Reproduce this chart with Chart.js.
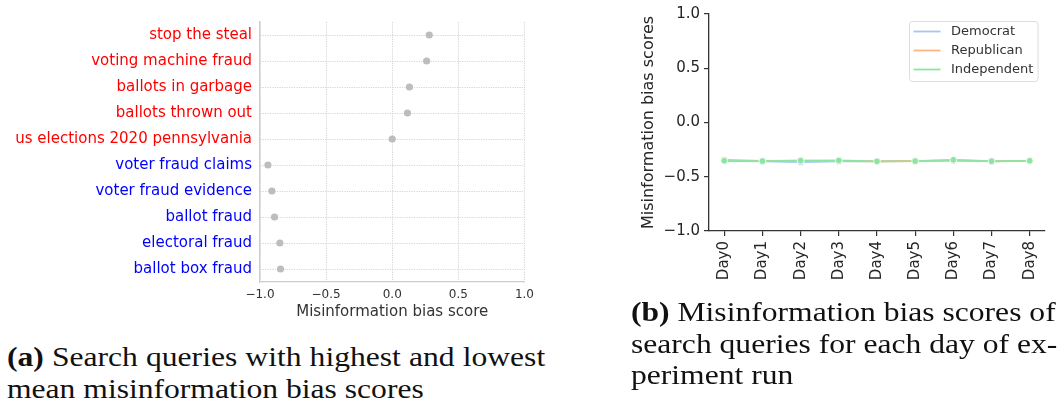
<!DOCTYPE html>
<html>
<head>
<meta charset="utf-8">
<script src="https://cdn.jsdelivr.net/npm/chart.js@4.4.1/dist/chart.umd.min.js"></script>
<style>
  html, body { margin: 0; padding: 0; background: #fff; }
  body { position: relative; width: 1058px; height: 410px; overflow: hidden; }
  canvas { position: absolute; }
  #queryChart { left: 0; top: 0; }
  #dayChart { left: 600px; top: 0; }
  .caption {
    position: absolute;
    font-family: "Liberation Serif", serif;
    font-size: 27px;
    line-height: 31.6px;
    color: #111;
    transform: scaleX(1.17);
    transform-origin: 0 0;
  }
  .caption span { display: block; white-space: nowrap; }
  .caption .just { text-align: justify; text-align-last: justify; }
  #capA { left: 7px; top: 342px; width: 460px; }
  #capB { left: 631px; top: 297px; width: 360px; }
</style>
</head>
<body>
<canvas id="queryChart" width="540" height="322"></canvas>
<canvas id="dayChart" width="458" height="300"></canvas>

<div class="caption" id="capA">
  <span class="just"><b>(a)</b> Search queries with highest and lowest</span>
  <span>mean misinformation bias scores</span>
</div>
<div class="caption" id="capB">
  <span class="just"><b>(b)</b> Misinformation bias scores of</span>
  <span class="just">search queries for each day of ex-</span>
  <span>periment run</span>
</div>

<script>
// queries, highest mean score first
var queries = [
  'stop the steal',
  'voting machine fraud',
  'ballots in garbage',
  'ballots thrown out',
  'us elections 2020 pennsylvania',
  'voter fraud claims',
  'voter fraud evidence',
  'ballot fraud',
  'electoral fraud',
  'ballot box fraud'
];
var queryScores = [0.28, 0.26, 0.13, 0.115, 0.0, -0.94, -0.91, -0.89, -0.85, -0.845];

var scoreTicks = [-1.0, -0.5, 0.0, 0.5, 1.0];

var days = ['Day0', 'Day1', 'Day2', 'Day3', 'Day4', 'Day5', 'Day6', 'Day7', 'Day8'];
var democrat =    [-0.355, -0.357, -0.366, -0.357, -0.358, -0.356, -0.350, -0.357, -0.354];
var republican =  [-0.345, -0.354, -0.352, -0.356, -0.357, -0.355, -0.352, -0.356, -0.353];
var independent = [-0.352, -0.356, -0.352, -0.350, -0.358, -0.356, -0.344, -0.357, -0.353];

Chart.defaults.font.family = 'DejaVu Sans';
Chart.defaults.animation = false;
Chart.defaults.responsive = false;

function fmt(v) {
  return v.toFixed(1).replace('-', '\u2212');
}

// left panel: one dot per query
new Chart(document.getElementById('queryChart'), {
  type: 'line',
  data: {
    labels: queries,
    datasets: [{
      data: queryScores,
      showLine: false,
      pointRadius: 3.6,
      pointHoverRadius: 3.6,
      pointBackgroundColor: '#bdbdbd',
      pointBorderWidth: 0
    }]
  },
  options: {
    indexAxis: 'y',
    layout: { padding: { top: 22, right: 13, left: 0, bottom: 0 } },
    plugins: { legend: { display: false }, tooltip: { enabled: false } },
    scales: {
      y: {
        type: 'category',
        offset: true,
        afterFit: function (s) { s.width = 260; },
        grid: { offset: false, color: '#d4d4d4', lineWidth: 1, drawTicks: false },
        border: { color: '#cccccc', width: 1.3, dash: [1.2, 1.2] },
        ticks: {
          padding: 8,
          font: { size: 15 },
          color: function (c) { return c.index < 5 ? '#ff0000' : '#0000ff'; }
        }
      },
      x: {
        type: 'linear',
        min: -1,
        max: 1,
        afterBuildTicks: function (s) { s.ticks = scoreTicks.map(function (v) { return { value: v }; }); },
        afterFit: function (s) { s.height = 40; },
        grid: { color: '#d4d4d4', lineWidth: 1, drawTicks: false },
        border: { color: '#cccccc', width: 1.3, dash: [1.2, 1.2] },
        ticks: {
          padding: 6,
          font: { size: 12 },
          color: '#333',
          callback: function (v) { return fmt(v); }
        },
        title: {
          display: true,
          text: 'Misinformation bias score',
          font: { size: 15 },
          color: '#333',
          padding: { top: 0, bottom: 1 }
        }
      }
    }
  }
});

// legend drawn inside the upper right of the plot area
var boxLegend = {
  id: 'boxLegend',
  afterDraw: function (chart) {
    var ctx = chart.ctx, area = chart.chartArea;
    var sets = chart.data.datasets;
    var w = 128.6, h = 60, rowH = 19;
    var x0 = area.right - 7.4 - w, y0 = area.top + 7;
    ctx.save();
    ctx.fillStyle = 'rgba(255,255,255,0.8)';
    ctx.strokeStyle = '#dddddd';
    ctx.lineWidth = 1;
    ctx.beginPath();
    ctx.roundRect(x0 + 0.5, y0 + 0.5, w, h, 3);
    ctx.fill();
    ctx.stroke();
    ctx.font = '13px "DejaVu Sans"';
    ctx.textBaseline = 'middle';
    ctx.fillStyle = '#333';
    sets.forEach(function (ds, i) {
      var y = y0 + 10.5 + i * rowH;
      ctx.strokeStyle = ds.borderColor;
      ctx.lineWidth = 1.8;
      ctx.beginPath();
      ctx.moveTo(x0 + 4.5, y);
      ctx.lineTo(x0 + 31.5, y);
      ctx.stroke();
      ctx.fillText(ds.label, x0 + 42, y);
    });
    ctx.restore();
  }
};

function series(label, values, color, order) {
  return {
    label: label,
    data: values.map(function (v, i) { return { x: i, y: v }; }),
    borderColor: color,
    backgroundColor: color,
    borderWidth: 1.8,
    pointRadius: 3.4,
    pointHoverRadius: 3.4,
    pointBackgroundColor: color,
    pointBorderColor: '#ffffff',
    pointBorderWidth: 0.8,
    order: order
  };
}

// right panel: per-day scores by party
new Chart(document.getElementById('dayChart'), {
  type: 'line',
  data: {
    datasets: [
      series('Democrat', democrat, '#a1c9f4', 2),
      series('Republican', republican, '#ffb482', 1),
      series('Independent', independent, '#8de5a1', 0)
    ]
  },
  plugins: [boxLegend],
  options: {
    layout: { padding: { top: 14, right: 13, left: 0, bottom: 0 } },
    plugins: { legend: { display: false }, tooltip: { enabled: false } },
    scales: {
      x: {
        type: 'linear',
        min: -0.4,
        max: 8.4,
        afterBuildTicks: function (s) { s.ticks = days.map(function (d, i) { return { value: i }; }); },
        afterFit: function (s) { s.height = 69; },
        grid: { drawOnChartArea: false, color: '#333', tickLength: 5, lineWidth: 1.2 },
        border: { color: '#333', width: 1.3 },
        ticks: {
          padding: 5,
          minRotation: 90,
          maxRotation: 90,
          font: { size: 15 },
          color: '#262626',
          callback: function (v) { return days[v]; }
        }
      },
      y: {
        type: 'linear',
        min: -1,
        max: 1,
        afterBuildTicks: function (s) { s.ticks = scoreTicks.map(function (v) { return { value: v }; }); },
        afterFit: function (s) { s.width = 109; },
        grid: { drawOnChartArea: false, color: '#333', tickLength: 5, lineWidth: 1.2 },
        border: { color: '#333', width: 1.3 },
        ticks: {
          padding: 4,
          font: { size: 15 },
          color: '#262626',
          callback: function (v) { return fmt(v); }
        },
        title: {
          display: true,
          text: 'Misinformation bias scores',
          font: { size: 16 },
          color: '#262626',
          padding: { top: 39.7, bottom: 0 }
        }
      }
    }
  }
});
</script>
</body>
</html>
